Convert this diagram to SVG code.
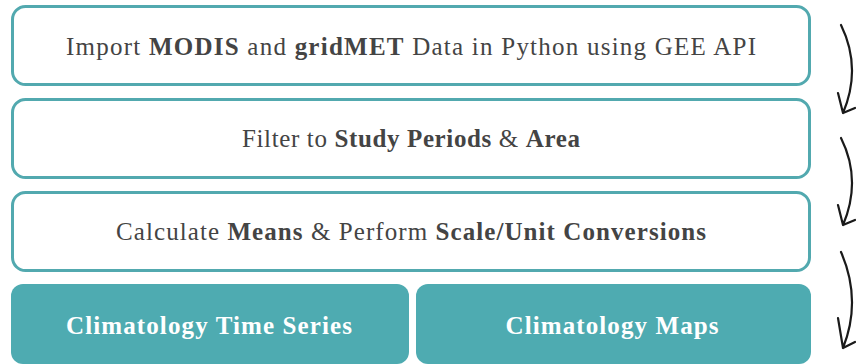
<svg xmlns="http://www.w3.org/2000/svg" width="856" height="364" viewBox="0 0 856 364">
  <style>
    .step { fill: #ffffff; stroke: #52a9af; stroke-width: 3; }
    .out { fill: #4eabb1; stroke: none; }
    .lbl { font-family: "Liberation Serif", "DejaVu Serif", serif; font-size: 25px; fill: #444444; text-anchor: middle; }
    .lbl tspan.b { font-weight: bold; }
    .olbl { font-family: "Liberation Serif", "DejaVu Serif", serif; font-size: 25px; font-weight: bold; fill: #ffffff; text-anchor: middle; }
    .flow { fill: none; stroke: #1a1a1a; stroke-width: 2.2; stroke-linecap: round; stroke-linejoin: round; }
  </style>

  <g id="import">
    <rect class="step" x="12.5" y="6.5" width="797" height="78" rx="13"/>
    <text class="lbl" x="411" y="55" textLength="690" lengthAdjust="spacing">Import <tspan class="b">MODIS</tspan> and <tspan class="b">gridMET</tspan> Data in Python using GEE API</text>
  </g>

  <g id="filter">
    <rect class="step" x="12.5" y="99.5" width="797" height="78" rx="13"/>
    <text class="lbl" x="411" y="147" textLength="338" lengthAdjust="spacing">Filter to <tspan class="b">Study Periods</tspan> &amp; <tspan class="b">Area</tspan></text>
  </g>

  <g id="calculate">
    <rect class="step" x="12.5" y="192.5" width="797" height="78" rx="13"/>
    <text class="lbl" x="411" y="240" textLength="590" lengthAdjust="spacing">Calculate <tspan class="b">Means</tspan> &amp; Perform <tspan class="b">Scale/Unit Conversions</tspan></text>
  </g>

  <g id="time-series">
    <rect class="out" x="11" y="284" width="398" height="80" rx="12"/>
    <text class="olbl" x="209" y="334" textLength="286" lengthAdjust="spacing">Climatology Time Series</text>
  </g>

  <g id="maps">
    <rect class="out" x="416" y="284" width="395" height="80" rx="12"/>
    <text class="olbl" x="612" y="334" textLength="213" lengthAdjust="spacing">Climatology Maps</text>
  </g>

  <g id="connectors">
    <path class="flow" d="M841 25 Q862 68 843 113 M838 93 L843 113 L855 108"/>
    <path class="flow" d="M841 138 Q862 180 843 225 M838 205 L843 225 L855 220"/>
    <path class="flow" d="M841 252 Q862 300 843 348 M838 318 L843 348 L855 342"/>
  </g>
</svg>
